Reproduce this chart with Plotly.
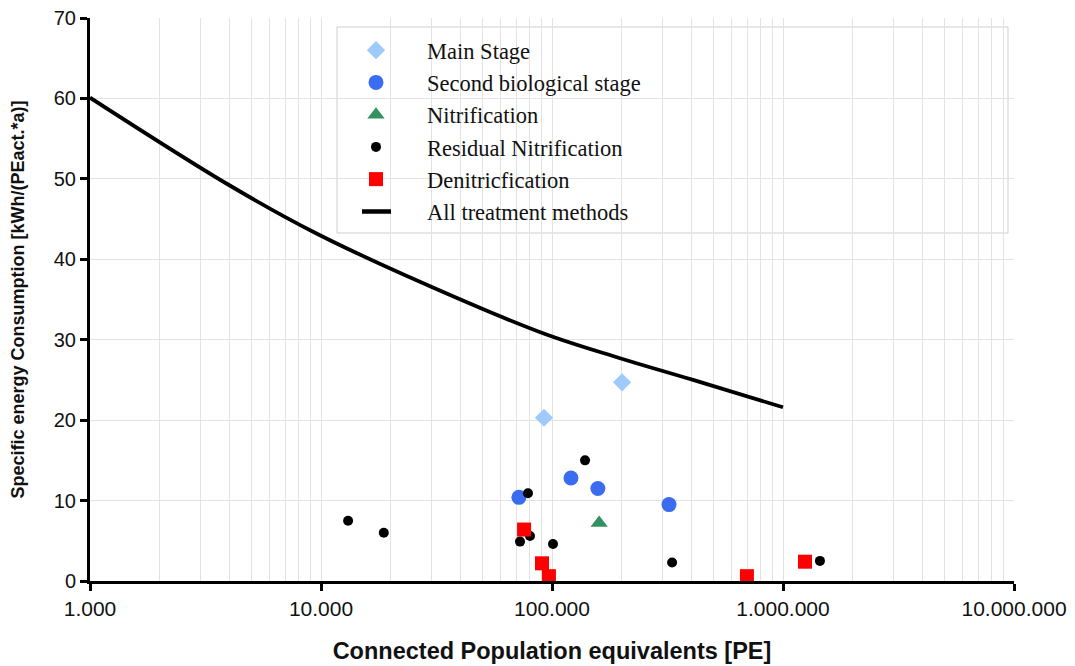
import plotly.graph_objects as go

# ---- data ----
main_x = [92300, 201000]
main_y = [20.3, 24.7]

second_x = [71900, 120800, 158000, 321000]
second_y = [10.4, 12.8, 11.5, 9.5]

nitri_x = [160000]
nitri_y = [7.2]

resid_x = [13100, 18700, 78700, 139000, 72700, 80300, 101000, 331000, 1445000]
resid_y = [7.5, 6.0, 10.9, 15.0, 4.9, 5.6, 4.6, 2.3, 2.5]

denit_x = [75700, 90500, 97000, 698000, 1245000]
denit_y = [6.4, 2.2, 0.6, 0.6, 2.4]

all_x = [1000, 3960, 9420, 26800, 91400, 197000, 408000, 1000000]
all_y = [60.1, 49.3, 43.3, 37.2, 30.8, 27.7, 25.0, 21.6]

x_tickvals = [1000, 10000, 100000, 1000000, 10000000]
x_ticktext = ["1.000", "10.000", "100.000", "1.000.000", "10.000.000"]
y_tickvals = [0, 10, 20, 30, 40, 50, 60, 70]

fig = go.Figure()

fig.add_trace(go.Scatter(x=main_x, y=main_y, mode="markers", name="Main Stage",
                         marker=dict(symbol="diamond", size=14, color="#9ecbfb")))
fig.add_trace(go.Scatter(x=second_x, y=second_y, mode="markers", name="Second biological stage",
                         marker=dict(symbol="circle", size=15, color="#3b6cf0")))
fig.add_trace(go.Scatter(x=nitri_x, y=nitri_y, mode="markers", name="Nitrification",
                         marker=dict(symbol="triangle-up", size=15, color="#33915f")))
fig.add_trace(go.Scatter(x=resid_x, y=resid_y, mode="markers", name="Residual Nitrification",
                         marker=dict(symbol="circle", size=10, color="#000000")))
fig.add_trace(go.Scatter(x=denit_x, y=denit_y, mode="markers", name="Denitricfication",
                         marker=dict(symbol="square", size=14, color="#ff0000")))
fig.add_trace(go.Scatter(x=all_x, y=all_y, mode="lines", name="All treatment methods",
                         showlegend=False,
                         line=dict(color="#000000", width=3.8, shape="spline")))
# legend-only entry for the curve: dash pattern keeps the legend swatch short
fig.add_trace(go.Scatter(x=[None], y=[None], mode="lines", name="All treatment methods",
                         line=dict(color="#000000", width=4.5, dash="0px,32px,29px,300px")))

grid_col = "#e3e3e3"

# the page body adds an 8px offset; margins compensate so the plot area sits at
# screen x 90..1014, y 18..581
fig.update_layout(
    width=1075, height=666,
    margin=dict(l=82, r=69, t=10, b=93),
    plot_bgcolor="white", paper_bgcolor="white",
    showlegend=True,
    legend=dict(x=(325 - 90) / 924, y=(581 - 29) / 563, xanchor="left", yanchor="top",
                bgcolor="rgba(0,0,0,0)", borderwidth=0,
                font=dict(family="Liberation Serif", size=22.5, color="#111111"),
                itemwidth=92, tracegroupgap=0),
    shapes=[dict(type="rect", xref="paper", yref="paper",
                 x0=(337 - 90) / 924, x1=(1008 - 90) / 924,
                 y0=(581 - 233) / 563, y1=(581 - 27) / 563,
                 fillcolor="white", line=dict(color="#cfcfcf", width=1),
                 layer="between")],
)

fig.update_xaxes(
    type="log", range=[3, 7], automargin=False, ticklabeloverflow="allow",
    tickvals=x_tickvals, ticktext=x_ticktext,
    tickfont=dict(family="Liberation Sans", size=21, color="#111111"),
    ticks="outside", ticklen=7, tickwidth=2.5, tickcolor="black",
    showline=True, linecolor="black", linewidth=3,
    showgrid=True, gridcolor=grid_col, gridwidth=1,
    minor=dict(showgrid=True, gridcolor=grid_col, gridwidth=1, dtick="D1", ticks=""),
    zeroline=False,
    title=dict(text="<b>Connected Population equivalents [PE]</b>",
               font=dict(family="Liberation Sans", size=23.5, color="#111111"), standoff=24),
)
fig.update_yaxes(
    range=[0, 70], tickvals=y_tickvals, automargin=False, ticklabeloverflow="allow",
    tickfont=dict(family="Liberation Sans", size=20, color="#111111"),
    ticks="outside", ticklen=7, tickwidth=2.5, tickcolor="black",
    showline=True, linecolor="black", linewidth=3,
    showgrid=True, gridcolor=grid_col, gridwidth=1,
    zeroline=False,
    title=dict(text="<b>Specific energy Consumption [kWh/(PEact.*a)]</b>",
               font=dict(family="Liberation Sans", size=18, color="#111111"), standoff=26),
)

fig.write_html("out.html")
